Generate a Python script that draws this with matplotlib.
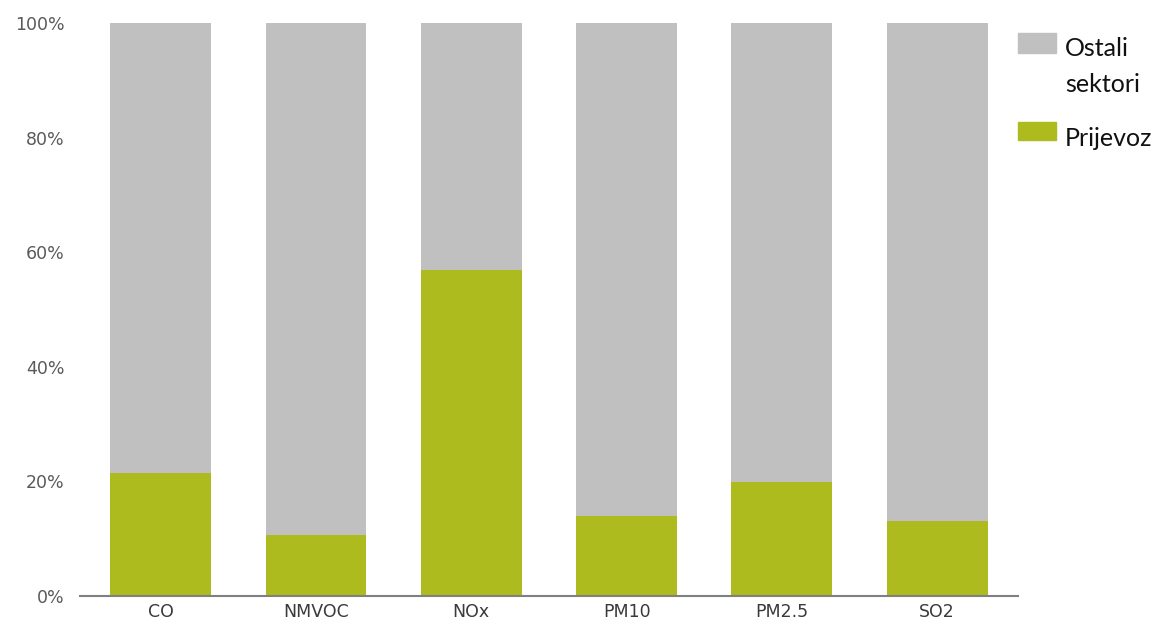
import matplotlib.pyplot as plt
from matplotlib.patches import Rectangle

# Share of emissions by pollutant (%)
pollutants = ["CO", "NMVOC", "NOx", "PM10", "PM2.5", "SO2"]
prijevoz = [21.5, 10.6, 56.9, 14.0, 19.9, 13.1]
ostali = [100 - p for p in prijevoz]
ytick_vals = [0, 20, 40, 60, 80, 100]
ytick_labels = [f"{v}%" for v in ytick_vals]

GREEN = "#adbb1f"
GREY = "#c0c0c0"

fig = plt.figure(figsize=(11.62, 6.24), dpi=100)
ax = fig.add_axes([0.0688, 0.0449, 0.8072, 0.9183])

x = range(len(pollutants))
ax.bar(x, prijevoz, width=0.65, color=GREEN)
ax.bar(x, ostali, width=0.65, bottom=prijevoz, color=GREY)

ax.set_xlim(-0.52, 5.52)
ax.set_ylim(0, 100)
ax.set_yticks(ytick_vals)
ax.set_yticklabels(ytick_labels)
ax.set_xticks(list(x))
ax.set_xticklabels(pollutants)
ax.tick_params(axis="both", length=0, labelsize=12.5)
ax.tick_params(axis="y", pad=11, labelcolor="#5a5a5a")
ax.tick_params(axis="x", pad=5, labelcolor="#3a3a3a")

for side in ["top", "right", "left"]:
    ax.spines[side].set_visible(False)
ax.spines["bottom"].set_color("#808080")
ax.spines["bottom"].set_linewidth(1.5)

# legend drawn by hand so the patch sits next to the first line of text
W, H = 1162, 624
def fx(px):
    return px / W
def fy(py):
    return 1 - py / H

fig.patches.append(Rectangle((fx(1018), fy(53)), fx(38), 20 / H,
                             transform=fig.transFigure, color=GREY))
fig.patches.append(Rectangle((fx(1018), fy(140)), fx(38), 18 / H,
                             transform=fig.transFigure, color=GREEN))
for label, ypx in [("Ostali", 48), ("sektori", 85), ("Prijevoz", 138)]:
    fig.text(fx(1065), fy(ypx), label, family="Lato", fontsize=18,
             va="center", ha="left", color="#111111")

fig.savefig("out.png", dpi=100)
